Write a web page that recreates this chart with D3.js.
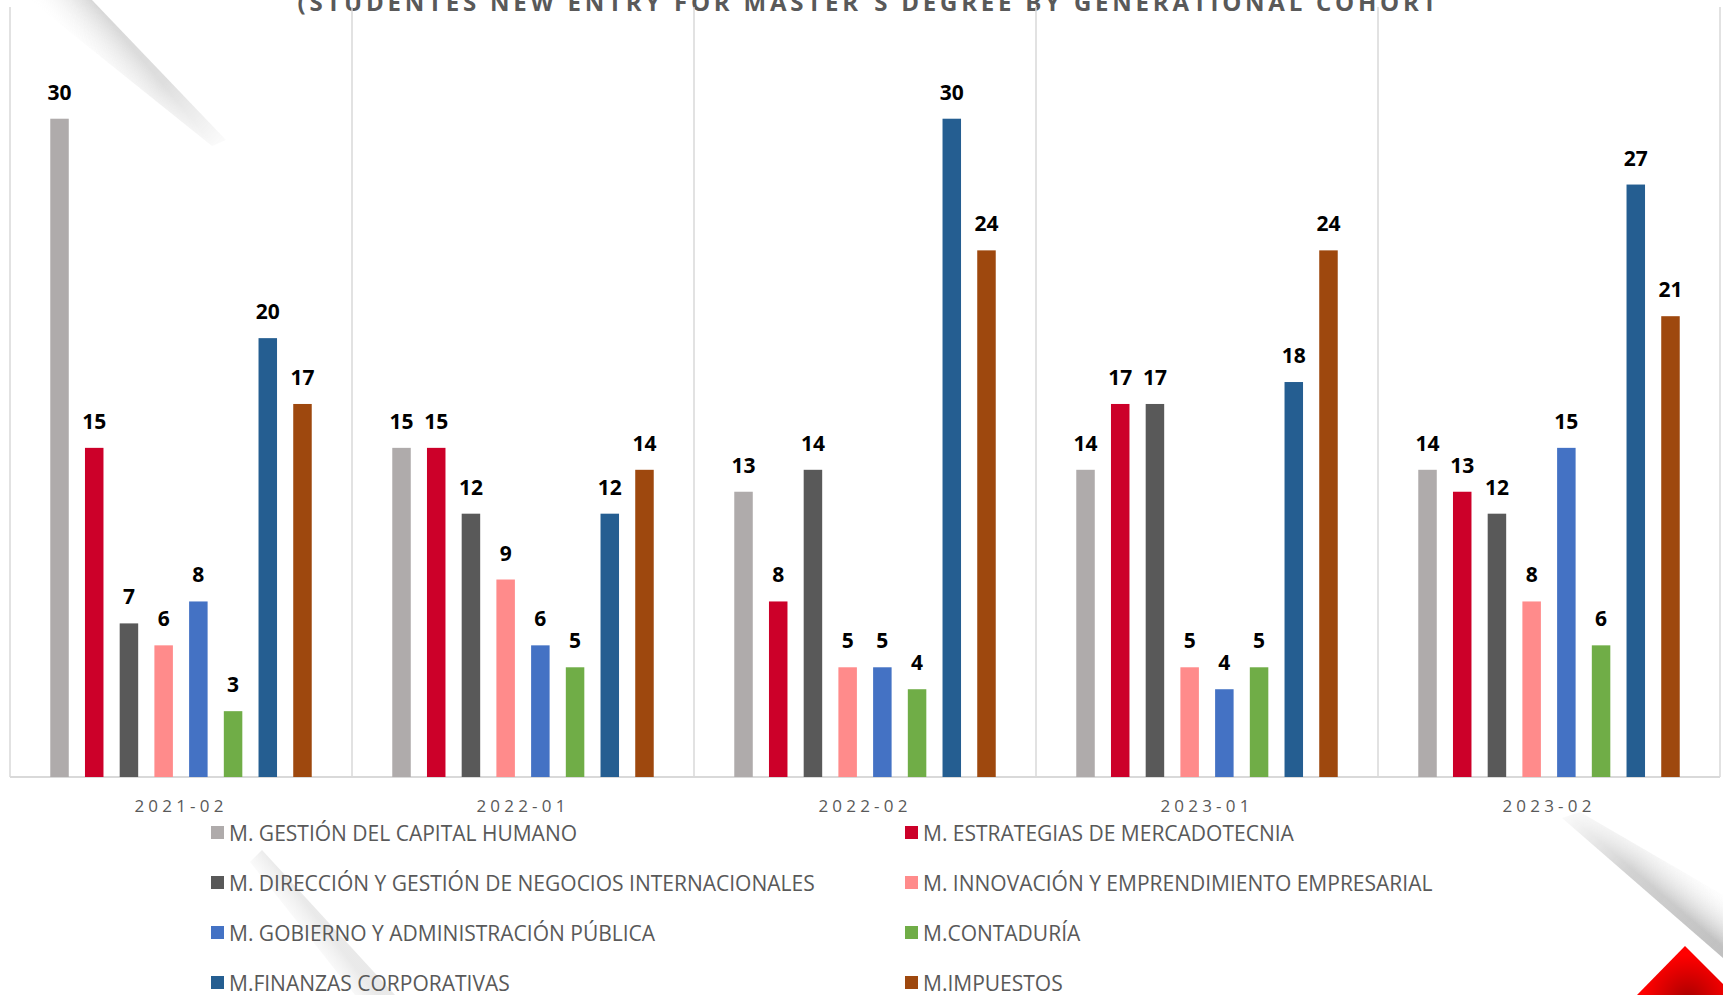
<!DOCTYPE html>
<html>
<head>
<meta charset="utf-8">
<script src="https://cdn.jsdelivr.net/npm/d3@7"></script>
<style>
  html, body { margin: 0; padding: 0; background: #fff; }
  svg { display: block; }
  text { font-family: "Open Sans", "DejaVu Sans", sans-serif; }
</style>
</head>
<body>
<svg id="chart" width="1723" height="995"></svg>
<script>
// --- data ---
const cohorts = ["2021-02", "2022-01", "2022-02", "2023-01", "2023-02"];
const programs = [
  "M. GESTIÓN DEL CAPITAL HUMANO",
  "M. ESTRATEGIAS DE MERCADOTECNIA",
  "M. DIRECCIÓN Y GESTIÓN DE NEGOCIOS INTERNACIONALES",
  "M. INNOVACIÓN Y EMPRENDIMIENTO EMPRESARIAL",
  "M. GOBIERNO Y ADMINISTRACIÓN PÚBLICA",
  "M.CONTADURÍA",
  "M.FINANZAS CORPORATIVAS",
  "M.IMPUESTOS"
];
const programColors = ["#AFABAB", "#CC0029", "#595959", "#FF8B8B", "#4472C4", "#70AD47", "#255E91", "#9E480E"];

const gestion     = [30, 15, 13, 14, 14];
const estrategias = [15, 15,  8, 17, 13];
const direccion   = [ 7, 12, 14, 17, 12];
const innovacion  = [ 6,  9,  5,  5,  8];
const gobierno    = [ 8,  6,  5,  4, 15];
const contaduria  = [ 3,  5,  4,  5,  6];
const finanzas    = [20, 12, 30, 18, 27];
const impuestos   = [17, 14, 24, 24, 21];
const seriesValues = [gestion, estrategias, direccion, innovacion, gobierno, contaduria, finanzas, impuestos];

const titleText = "(STUDENTES NEW ENTRY FOR MASTER´S DEGREE BY GENERATIONAL COHORT";

// --- setup ---
const svg = d3.select("#chart");
const plot = {left: 10, right: 1720, top: 9, bottom: 777};

const x0 = d3.scaleBand().domain(cohorts).range([plot.left, plot.right]);
const x1 = d3.scaleBand().domain(programs).range([0, x0.bandwidth()])
    .paddingInner(0.467).paddingOuter(1.16);
const y = d3.scaleLinear().domain([0, 35]).range([plot.bottom, plot.top]);
const color = d3.scaleOrdinal().domain(programs).range(programColors);

const defs = svg.append("defs");

// --- background decorations (slide page curls) ---
// top-left: sharp edge, soft shadow to the lower left, fading along its length
const g1 = defs.append("linearGradient").attr("id", "shadeTL")
    .attr("gradientUnits", "userSpaceOnUse")
    .attr("x1", 92).attr("y1", 0).attr("x2", 55).attr("y2", 31);
g1.append("stop").attr("offset", "0%").attr("stop-color", "#cfcfcf").attr("stop-opacity", 0.85);
g1.append("stop").attr("offset", "100%").attr("stop-color", "#ffffff").attr("stop-opacity", 0);
const m1 = defs.append("linearGradient").attr("id", "fadeTL")
    .attr("gradientUnits", "userSpaceOnUse")
    .attr("x1", 70).attr("y1", 0).attr("x2", 225).attr("y2", 140);
m1.append("stop").attr("offset", "0%").attr("stop-color", "#fff").attr("stop-opacity", 1);
m1.append("stop").attr("offset", "60%").attr("stop-color", "#fff").attr("stop-opacity", 0.8);
m1.append("stop").attr("offset", "100%").attr("stop-color", "#fff").attr("stop-opacity", 0.1);
defs.append("mask").attr("id", "maskTL")
  .append("rect").attr("x", 0).attr("y", 0).attr("width", 300).attr("height", 200)
    .attr("fill", "url(#fadeTL)");
svg.append("polygon").attr("points", "30,0 92,0 226,140 212,146")
    .attr("fill", "url(#shadeTL)").attr("mask", "url(#maskTL)");

// bottom-right: sharp edge, shadow to the upper right
const g2 = defs.append("linearGradient").attr("id", "shadeBR")
    .attr("gradientUnits", "userSpaceOnUse")
    .attr("x1", 1660).attr("y1", 893).attr("x2", 1690).attr("y2", 858);
g2.append("stop").attr("offset", "0%").attr("stop-color", "#bcbcbc").attr("stop-opacity", 0.95);
g2.append("stop").attr("offset", "100%").attr("stop-color", "#ffffff").attr("stop-opacity", 0);
const m2 = defs.append("linearGradient").attr("id", "fadeBR")
    .attr("gradientUnits", "userSpaceOnUse")
    .attr("x1", 1560).attr("y1", 815).attr("x2", 1723).attr("y2", 960);
m2.append("stop").attr("offset", "0%").attr("stop-color", "#fff").attr("stop-opacity", 0.05);
m2.append("stop").attr("offset", "40%").attr("stop-color", "#fff").attr("stop-opacity", 0.7);
m2.append("stop").attr("offset", "100%").attr("stop-color", "#fff").attr("stop-opacity", 1);
defs.append("mask").attr("id", "maskBR")
  .append("rect").attr("x", 1500).attr("y", 760).attr("width", 223).attr("height", 235)
    .attr("fill", "url(#fadeBR)");
svg.append("polygon").attr("points", "1562,818 1723,958 1723,895 1580,812")
    .attr("fill", "url(#shadeBR)").attr("mask", "url(#maskBR)");

// faint curl shadow across the legend
const g3 = defs.append("linearGradient").attr("id", "shadeLeg")
    .attr("gradientUnits", "userSpaceOnUse")
    .attr("x1", 330).attr("y1", 935).attr("x2", 300).attr("y2", 958);
g3.append("stop").attr("offset", "0%").attr("stop-color", "#d4d4d4").attr("stop-opacity", 0.5);
g3.append("stop").attr("offset", "100%").attr("stop-color", "#ffffff").attr("stop-opacity", 0);
svg.append("polygon").attr("points", "262,850 395,995 355,995 250,862")
    .attr("fill", "url(#shadeLeg)");

const rg = defs.append("radialGradient").attr("id", "redTri")
    .attr("gradientUnits", "userSpaceOnUse")
    .attr("cx", 1688).attr("cy", 1000).attr("r", 45);
rg.append("stop").attr("offset", "0%").attr("stop-color", "#a80000");
rg.append("stop").attr("offset", "100%").attr("stop-color", "#ff0000");
svg.append("polygon").attr("points", "1685,946 1723,984 1723,995 1637,995")
    .attr("fill", "url(#redTri)");

// --- title (clipped at top like the source slide) ---
svg.append("text")
    .attr("x", 867).attr("y", 11)
    .attr("text-anchor", "middle")
    .attr("textLength", 1139).attr("lengthAdjust", "spacing")
    .attr("font-size", 24).attr("font-weight", "bold")
    .attr("fill", "#595959")
    .text(titleText);

// --- plot frame and group dividers ---
const gridColor = "#D9D9D9";
const dividerXs = cohorts.map(c => x0(c)).concat([plot.right]);
svg.append("g").selectAll("line")
  .data(dividerXs)
  .enter().append("line")
    .attr("x1", d => d).attr("x2", d => d)
    .attr("y1", plot.top - 2).attr("y2", plot.bottom)
    .attr("stroke", gridColor).attr("stroke-width", 1.5);

svg.append("line")
    .attr("x1", plot.left).attr("x2", plot.right)
    .attr("y1", plot.bottom).attr("y2", plot.bottom)
    .attr("stroke", gridColor).attr("stroke-width", 2);

// --- bars ---
const rows = [];
cohorts.forEach((c, ci) => {
  programs.forEach((p, pi) => rows.push({cohort: c, program: p, value: seriesValues[pi][ci]}));
});

const barG = svg.append("g");
barG.selectAll("rect")
  .data(rows)
  .enter().append("rect")
    .attr("x", d => x0(d.cohort) + x1(d.program))
    .attr("y", d => y(d.value))
    .attr("width", x1.bandwidth())
    .attr("height", d => y(0) - y(d.value))
    .attr("fill", d => color(d.program));

barG.selectAll("text")
  .data(rows)
  .enter().append("text")
    .attr("x", d => x0(d.cohort) + x1(d.program) + x1.bandwidth() / 2)
    .attr("y", d => y(d.value) - 19)
    .attr("text-anchor", "middle")
    .attr("font-size", 21).attr("font-weight", "bold")
    .attr("fill", "#000")
    .text(d => d.value);

// --- category axis labels ---
svg.append("g").selectAll("text")
  .data(cohorts)
  .enter().append("text")
    .attr("x", d => x0(d) + x0.bandwidth() / 2)
    .attr("y", 812)
    .attr("text-anchor", "middle")
    .attr("font-size", 17)
    .attr("letter-spacing", 4.2)
    .attr("fill", "#595959")
    .text(d => d);

// --- legend ---
const legCols = [211, 905];
const legRows = [833, 883, 933, 983];
const legend = svg.append("g").selectAll("g")
  .data(programs)
  .enter().append("g")
    .attr("transform", (d, i) => `translate(${legCols[i % 2]},${legRows[Math.floor(i / 2)]})`);

legend.append("rect")
    .attr("x", 0).attr("y", -7)
    .attr("width", 13).attr("height", 13)
    .attr("fill", d => color(d));

legend.append("text")
    .attr("x", 18).attr("y", 7.5)
    .attr("font-size", 21)
    .attr("fill", "#595959")
    .text(d => d);
</script>
</body>
</html>
